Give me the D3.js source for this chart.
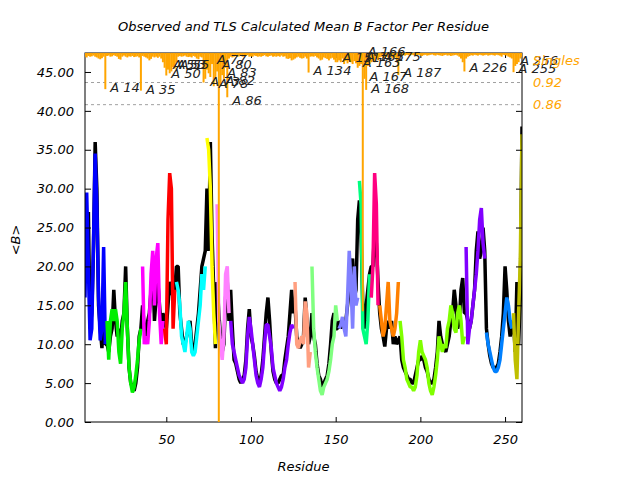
<!DOCTYPE html>
<html><head><meta charset="utf-8">
<script src="https://cdn.jsdelivr.net/npm/d3@7"></script>
<style>body{margin:0;background:#fff}</style>
</head><body><svg id="c" width="640" height="480"></svg>
<script>
const titleText = "Observed and TLS Calculated Mean B Factor Per Residue";
const xLabel = "Residue";
const yLabel = "<B>";
const firstResidue = 2;
const lastResidue = 260;
const xTicks = [50, 100, 150, 200, 250];
const yTicks = [0, 5, 10, 15, 20, 25, 30, 35, 40, 45];
const yMax = 47.44;

// TLS groups: first residue of each group and its colour
const groupStarts = [2, 15, 36, 49, 56, 74, 80, 88, 126, 136, 152, 164, 171, 176, 188, 227, 239, 255];
const groupColors = ["#0000ff", "#00ee00", "#ff00ff", "#ff0000", "#00ffff", "#ffff00", "#ff80ff", "#8000ff",
  "#ff9f80", "#80ff80", "#8080ff", "#00ff80", "#ff0080", "#ff8000", "#80ff00", "#8000ff", "#0080ff", "#bfbf00"];

// Observed mean B per residue (2..260)
const observedB = [
  28, 18, 27, 12, 14, 22, 36, 30, 15, 12, 9.5, 14, 10,
  10, 9, 11, 12, 17, 13, 11, 12, 10.5, 13, 14, 20, 12, 7, 5, 4.5, 4, 5, 7, 11, 12,
  15, 12, 11, 13, 14, 17, 20, 13, 16, 18, 15, 12, 14,
  13, 12, 15, 18, 17, 16, 17,
  20, 20, 14, 12, 10, 10, 11, 12, 13, 10, 9, 10, 12, 14, 17, 20, 21, 22,
  30, 22, 36, 24, 17, 9.5,
  18, 14, 11, 9, 10, 16, 18, 13,
  17, 12, 8, 7.5, 6.5, 5.5, 5, 5.5, 6, 8, 12, 14.5, 11, 10, 8.5, 6.5, 5.5, 5, 6, 8,
  11, 14, 16, 13, 9, 6.5, 5.5, 5, 5, 5.5, 6, 6, 8, 9.5, 11, 14, 17, 14,
  15, 11, 10, 9.5, 10, 11, 16, 13, 10, 11,
  14, 11, 10, 7.5, 6, 5.5, 4.5, 5, 5.5, 6, 7.5, 10, 13, 14, 12, 12,
  13, 12, 13, 12.5, 13, 15, 17, 20, 21, 16, 17, 26,
  28.5, 24, 15, 12, 15, 17, 19,
  20, 20, 25, 23, 18,
  14, 12, 11, 9.7, 12, 13, 12, 13, 10, 11, 10, 10.5,
  11, 8, 7, 6.5, 6, 5.5, 5.5, 5, 5, 6, 7, 8, 8, 8.5, 8, 7, 6.5, 5.5, 5, 5,
  5.5, 7, 9, 13, 11, 10, 9.5, 9, 10, 11, 13, 14, 17, 15, 12, 13, 17, 18.5, 14,
  14, 13, 12, 13, 15, 17, 22, 24.5, 21, 22, 25, 22,
  12, 10, 8.5, 7.5, 7, 7, 7, 7.5, 9, 11, 14, 20, 17, 13, 11, 12,
  13, 9, 18, 10, 16, 38
];

// TLS calculated mean B per residue (2..260)
const calculatedB = [
  16, 29.5, 20, 10.5, 12, 23, 34.5, 28, 16, 10.5, 12, 22.5, 10,
  13, 8, 13, 14.5, 13, 14.5, 13, 9, 7.5, 12, 14, 18, 12, 7, 5, 3.8, 4.5, 6, 8, 10.5, 12,
  20, 10, 11, 10, 13, 19, 22, 15, 21, 23, 14, 10, 13,
  12, 10, 26, 32, 30, 12, 17,
  18, 17, 15, 11, 10, 9, 11, 13, 12, 9, 8.5, 9, 11, 13, 15, 19, 17, 20,
  36.5, 35, 30, 20, 14, 10,
  28, 13, 10, 8, 11, 19, 20, 14,
  13, 10, 9, 8, 7, 6, 5.5, 5, 5.5, 7, 11, 13.5, 12, 10, 8, 6, 5, 4.5, 5.5, 7,
  10, 12.5, 12.5, 11, 9.5, 7, 6, 5, 4.5, 4, 4.5, 5.5, 7, 8, 10, 11.5, 12.5, 12,
  18, 10, 9.5, 10.5, 11, 10, 15.5, 14, 7, 9,
  20, 12, 9, 7, 5.5, 4, 3.5, 4.5, 5, 5.5, 6.5, 8, 10, 11, 15, 13,
  12, 12.5, 13.5, 12, 11, 16, 22, 18, 12, 20, 15, 16,
  31, 28, 12, 11, 10, 13, 19,
  16, 20, 32, 28, 15,
  15, 13, 11, 12, 15, 18, 13, 12, 11, 12, 14, 18,
  13, 11, 8, 7, 5.5, 5, 4.5, 4.5, 4, 4.5, 6, 9, 10.5, 9, 8.5, 8, 7, 5, 4, 3.5,
  4.5, 6, 8, 11, 10, 9, 10, 9.5, 12, 13, 15, 14, 12, 11.5, 14, 15, 13, 10, 11,
  22.5, 10, 12, 13, 15, 17, 19, 22, 26, 27.5, 23, 21,
  11.5, 10, 9, 8, 7, 6.5, 6.5, 7, 8, 10, 12, 14, 16, 15, 13, 12,
  14, 8, 5.5, 14, 21, 37
];

// "Singles" score per residue (2..260), right-hand scale 0..1
const singles = [
  0.99, 0.988, 0.992, 0.99, 0.991, 0.993, 0.99, 0.988, 0.985, 0.983, 0.986, 0.99,
  0.902,
  0.992, 0.993, 0.99, 0.991, 0.994, 0.992, 0.99, 0.984, 0.982, 0.99, 0.993, 0.99, 0.988, 0.991, 0.99, 0.992, 0.989, 0.99, 0.991, 0.988,
  0.898,
  0.992, 0.99, 0.988, 0.985, 0.98, 0.984, 0.99, 0.988, 0.99, 0.987, 0.99, 0.985, 0.975,
  0.96, 0.939, 0.955, 0.945, 0.95, 0.962, 0.958, 0.975,
  0.99, 0.992, 0.99, 0.991, 0.993, 0.99, 0.989, 0.99, 0.988, 0.992, 0.99, 0.985, 0.983, 0.99, 0.988,
  0.92, 0.93, 0.955, 0.945, 0.935, 0.97, 0.91, 0.93, 0.95, 0.0, 0.91, 0.94, 0.93, 0.96, 0.88,
  0.985, 0.99, 0.988, 0.99, 0.992, 0.99, 0.991, 0.993, 0.99, 0.99, 0.992, 0.994, 0.99, 0.991, 0.99, 0.993, 0.992, 0.99, 0.991, 0.99,
  0.992, 0.994, 0.991, 0.99, 0.992, 0.993, 0.99, 0.991, 0.99, 0.992, 0.99, 0.993, 0.99, 0.991, 0.985, 0.984, 0.986,
  0.98, 0.982, 0.985, 0.988, 0.99, 0.987, 0.985, 0.986, 0.99, 0.985,
  0.947,
  0.99, 0.991, 0.99, 0.992, 0.988, 0.985, 0.98, 0.982, 0.988, 0.986, 0.984, 0.98, 0.985, 0.987, 0.982,
  0.975, 0.975,
  0.98, 0.975, 0.985, 0.97, 0.978, 0.972, 0.98, 0.975, 0.97, 0.978, 0.972, 0.96, 0.965, 0.97,
  0.3,
  0.93, 0.9, 0.965, 0.97, 0.975, 0.98, 0.975,
  0.985, 0.98, 0.988, 0.99, 0.987, 0.985, 0.99, 0.988, 0.99, 0.987, 0.985, 0.988, 0.98,
  0.94,
  0.99, 0.992, 0.994, 0.993, 0.995, 0.994, 0.993, 0.995, 0.994, 0.993, 0.994, 0.995, 0.993, 0.992, 0.994, 0.995, 0.993, 0.994, 0.995, 0.996,
  0.994, 0.993, 0.995, 0.994, 0.993, 0.992, 0.994, 0.995, 0.993, 0.994, 0.992, 0.993, 0.994, 0.995, 0.993, 0.99, 0.985, 0.975,
  0.95,
  0.985, 0.99, 0.992, 0.994, 0.993, 0.995, 0.994, 0.993, 0.995, 0.994, 0.993, 0.994, 0.995, 0.993, 0.994, 0.995, 0.994, 0.993, 0.995, 0.994,
  0.993, 0.99, 0.995, 0.994, 0.993, 0.99, 0.988, 0.985,
  0.948, 0.965, 0.97, 0.975, 0.985, 0.99
];

// Labelled residues and the level (on the singles scale) of each label
const labelResidues = [14, 35, 50, 51, 53, 55, 73, 77, 78, 80, 82, 83, 86, 134, 151, 163, 165, 166, 167, 168, 175, 187, 226, 255, 256];
const labelLevels = [0.8935, 0.889, 0.932, 0.957, 0.957, 0.957, 0.911, 0.970, 0.905, 0.957, 0.913, 0.935, 0.859,
  0.941, 0.976, 0.962, 0.978, 0.993, 0.925, 0.892, 0.978, 0.935, 0.949, 0.946, 0.967];

const rightLabels = ["Singles", "0.92", "0.86"];
const rightLevels = [0.98, 0.92, 0.86];
const dashedLevels = [0.92, 0.86];

const svg = d3.select("#c");
const font = "DejaVu Sans";
const L = 85, R = 522, T = 53, B = 422;
const x = d3.scaleLinear().domain([firstResidue, lastResidue]).range([L, R]);
const y = d3.scaleLinear().domain([0, yMax]).range([B, T]);
const ys = d3.scaleLinear().domain([0, 1]).range([B, T]);
const residues = d3.range(firstResidue, lastResidue + 1);

svg.append("rect").attr("width", 640).attr("height", 480).attr("fill", "#fff");

// dashed reference lines
svg.selectAll(".dash").data(dashedLevels).join("line")
  .attr("x1", L).attr("x2", R).attr("y1", d => ys(d)).attr("y2", d => ys(d))
  .attr("stroke", "#a0a0a0").attr("stroke-width", 1).attr("stroke-dasharray", "3,3");

const clip = svg.append("clipPath").attr("id", "clip").append("rect")
  .attr("x", L).attr("y", T).attr("width", R - L).attr("height", B - T);
const plot = svg.append("g").attr("clip-path", "url(#clip)");

const line = d3.line().x(d => x(d[0])).y(d => y(d[1]));
plot.append("path").datum(residues.map((r, i) => [r, observedB[i]]))
  .attr("d", line).attr("fill", "none").attr("stroke", "#000").attr("stroke-width", 3.5).attr("stroke-linejoin", "bevel");

groupStarts.forEach((s, g) => {
  const e = g + 1 < groupStarts.length ? groupStarts[g + 1] : lastResidue + 1;
  const pts = d3.range(s, e).map(r => [r, calculatedB[r - firstResidue]]);
  plot.append("path").datum(pts).attr("d", line).attr("fill", "none")
    .attr("stroke", groupColors[g]).attr("stroke-width", 3.5).attr("stroke-linejoin", "bevel");
});

// frame and axes
svg.append("rect").attr("x", L).attr("y", T).attr("width", R - L).attr("height", B - T)
  .attr("fill", "none").attr("stroke", "#000").attr("stroke-width", 1);

function styleAxis(g) {
  g.select(".domain").remove();
  g.selectAll("line").attr("stroke", "#000");
  g.selectAll("text").attr("font-family", font).attr("font-style", "italic").attr("font-size", 13).attr("fill", "#000");
}
svg.append("g").attr("transform", `translate(${L},0)`)
  .call(d3.axisLeft(y).tickValues(yTicks).tickFormat(d3.format(".2f")).tickSize(-6).tickPadding(11)).call(styleAxis);
svg.append("g").attr("transform", `translate(${R},0)`)
  .call(d3.axisRight(y).tickValues(yTicks).tickFormat("").tickSize(-6)).call(styleAxis);
svg.append("g").attr("transform", `translate(0,${B})`)
  .call(d3.axisBottom(x).tickValues(xTicks).tickFormat(d3.format("d")).tickSize(-5).tickPadding(13)).call(styleAxis);
svg.append("g").attr("transform", `translate(0,${T})`)
  .call(d3.axisTop(x).tickValues(xTicks).tickFormat("").tickSize(-5)).call(styleAxis);

// singles bars
const sg = svg.append("g").attr("clip-path", "url(#clip)");
sg.selectAll("line").data(residues).join("line")
  .attr("x1", r => x(r)).attr("x2", r => x(r))
  .attr("y1", ys(1)).attr("y2", (r, i) => ys(singles[i]))
  .attr("stroke", "#ffa500").attr("stroke-width", 2);

// labels
svg.selectAll(".lab").data(labelResidues).join("text")
  .attr("x", r => x(r) + 5).attr("y", (r, i) => ys(labelLevels[i]))
  .attr("font-family", font).attr("font-style", "italic").attr("font-size", 13).attr("fill", "#222")
  .text(r => "A " + r);

svg.selectAll(".rl").data(rightLabels).join("text")
  .attr("x", 533).attr("y", (d, i) => ys(rightLevels[i])).attr("dy", "0.35em")
  .attr("font-family", font).attr("font-style", "italic").attr("font-size", 13).attr("fill", "#ffa500")
  .text(d => d);

svg.append("text").attr("x", (L + R) / 2).attr("y", 31).attr("text-anchor", "middle")
  .attr("font-family", font).attr("font-style", "italic").attr("font-size", 13).text(titleText);
svg.append("text").attr("x", (L + R) / 2).attr("y", 471).attr("text-anchor", "middle")
  .attr("font-family", font).attr("font-style", "italic").attr("font-size", 13).text(xLabel);
svg.append("text").attr("transform", "translate(20,240) rotate(-90)").attr("text-anchor", "middle")
  .attr("font-family", font).attr("font-style", "italic").attr("font-size", 13).text(yLabel);
</script></body></html>
